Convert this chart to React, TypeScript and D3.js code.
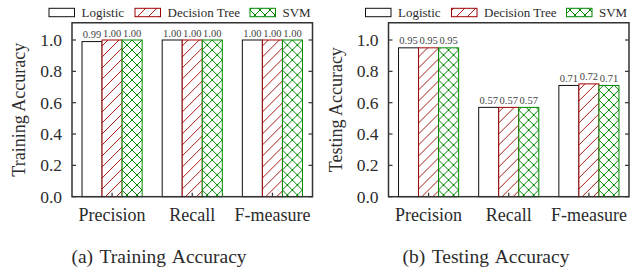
import React from "react";
import * as d3 from "d3";

const categories = ["Precision", "Recall", "F-measure"];
const series = ["Logistic", "Decision Tree", "SVM"];
const trainingValues = [
  [0.99, 1.0, 1.0],
  [1.0, 1.0, 1.0],
  [1.0, 1.0, 1.0],
];
const testingValues = [
  [0.95, 0.95, 0.95],
  [0.57, 0.57, 0.57],
  [0.71, 0.72, 0.71],
];
const yTicks = [0, 0.2, 0.4, 0.6, 0.8, 1.0];

const W = 638;
const H = 275;
const FONT = "'Liberation Serif', 'Times New Roman', serif";
const TEXT = "#2b2b2b";
const RED = "#a00000";
const GREEN = "#008a00";

const strokes = ["#111", RED, GREEN];
const fills = ["#fff", "url(#hatch)", "url(#cross)"];

// legend box offsets relative to the frame's left edge
const legendOffsets = [-23, 63, 178];

function Panel(props: {
  left: number;
  values: number[][];
  yTitle: string;
  caption: string;
  captionX: number;
}) {
  const { left, values, yTitle, caption, captionX } = props;
  const right = left + 240.5;
  const bottom = 196.7;
  const y = d3.scaleLinear().domain([0, 1]).range([bottom, 40]);
  const top = y(1.11);

  const x0 = d3
    .scaleBand()
    .domain(categories)
    .range([left, right])
    .paddingInner(0.25)
    .paddingOuter(0.125);
  const x1 = d3.scaleBand().domain(series).range([0, x0.bandwidth()]).padding(0);

  return (
    <g>
      {/* bars */}
      {categories.map((c, i) => (
        <g key={c} transform={`translate(${x0(c)},0)`}>
          {series.map((s, j) => {
            const v = values[i][j];
            return (
              <g key={s}>
                <rect
                  x={x1(s)}
                  y={y(v)}
                  width={x1.bandwidth()}
                  height={bottom - y(v)}
                  fill={fills[j]}
                  stroke={strokes[j]}
                  strokeWidth={1}
                />
                <text
                  x={(x1(s) as number) + x1.bandwidth() / 2}
                  y={y(v) - 3.5}
                  textAnchor="middle"
                  fontSize={10.5}
                  fill="#444"
                >
                  {v.toFixed(2)}
                </text>
              </g>
            );
          })}
        </g>
      ))}

      {/* frame */}
      <rect
        x={left}
        y={top}
        width={right - left}
        height={bottom - top}
        fill="none"
        stroke="#333"
        strokeWidth={1.5}
      />

      {/* y ticks */}
      {yTicks.map((t) => (
        <g key={t}>
          <line x1={left} x2={left + 4} y1={y(t)} y2={y(t)} stroke="#333" strokeWidth={1.2} />
          <line x1={right} x2={right - 4} y1={y(t)} y2={y(t)} stroke="#333" strokeWidth={1.2} />
          <text
            x={left - 10}
            y={y(t)}
            dy="0.35em"
            textAnchor="end"
            fontSize={17.5}
            fill={TEXT}
          >
            {d3.format(".1f")(t)}
          </text>
        </g>
      ))}

      {/* x ticks and labels */}
      {categories.map((c) => {
        const cx = (x0(c) as number) + x0.bandwidth() / 2;
        return (
          <g key={c}>
            <line x1={cx} x2={cx} y1={bottom} y2={bottom - 4} stroke="#333" strokeWidth={1.2} />
            <text x={cx} y={220.5} textAnchor="middle" fontSize={18} fill={TEXT}>
              {c}
            </text>
          </g>
        );
      })}

      {/* y title */}
      <text
        transform={`translate(${left - 47},${(top + bottom) / 2}) rotate(-90)`}
        textAnchor="middle"
        fontSize={18}
        fill={TEXT}
      >
        {yTitle}
      </text>

      {/* legend */}
      {series.map((s, j) => {
        const bx = left + legendOffsets[j];
        return (
          <g key={s}>
            <rect
              x={bx}
              y={8.3}
              width={25.5}
              height={8.4}
              fill={fills[j]}
              stroke={strokes[j]}
              strokeWidth={1}
            />
            <text x={bx + 32.5} y={16.5} fontSize={13} fill={TEXT}>
              {s}
            </text>
          </g>
        );
      })}

      {/* caption */}
      <text
        x={captionX}
        y={263}
        textAnchor="middle"
        fontSize={19.5}
        wordSpacing={2}
        fill={TEXT}
      >
        {caption}
      </text>
    </g>
  );
}

export default function App() {
  return (
    <svg
      width={W}
      height={H}
      style={{ position: "absolute", left: 0, top: 0, background: "#fff" }}
      fontFamily={FONT}
    >
      <defs>
        <pattern id="hatch" patternUnits="userSpaceOnUse" width={11} height={11}>
          <rect width={11} height={11} fill="#fff" />
          <path d="M0,11 L11,0 M-2,2 L2,-2 M9,13 L13,9" stroke={RED} strokeWidth={0.9} />
        </pattern>
        <pattern id="cross" patternUnits="userSpaceOnUse" width={10} height={10}>
          <rect width={10} height={10} fill="#fff" />
          <path
            d="M0,10 L10,0 M-2,2 L2,-2 M8,12 L12,8 M0,0 L10,10 M-2,8 L2,12 M8,-2 L12,2"
            stroke={GREEN}
            strokeWidth={1}
          />
        </pattern>
      </defs>
      <Panel
        left={72}
        values={trainingValues}
        yTitle="Training Accuracy"
        caption="(a) Training Accuracy"
        captionX={159}
      />
      <Panel
        left={388.5}
        values={testingValues}
        yTitle="Testing Accuracy"
        caption="(b) Testing Accuracy"
        captionX={486}
      />
    </svg>
  );
}
